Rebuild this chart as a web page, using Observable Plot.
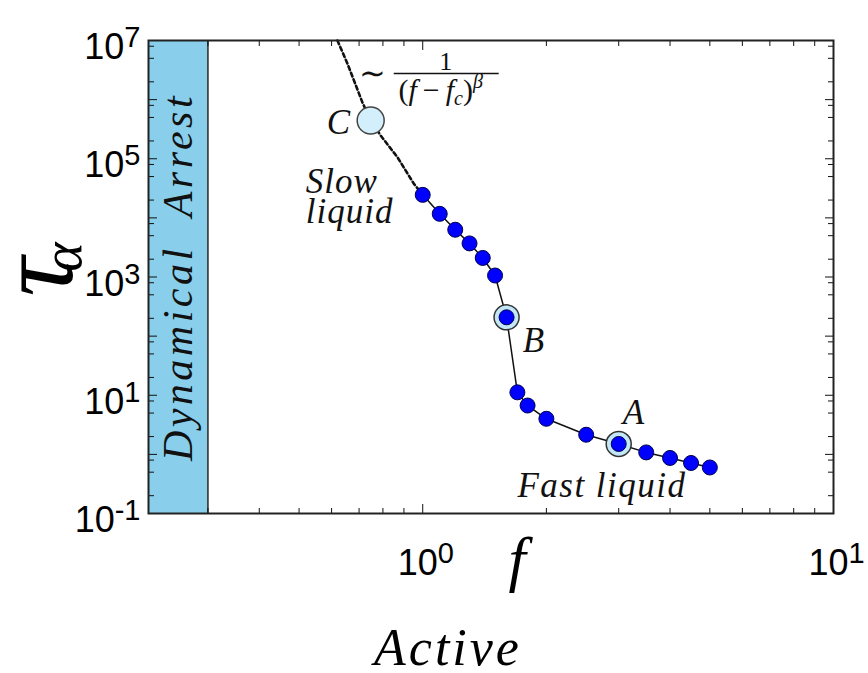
<!DOCTYPE html>
<html><head><meta charset="utf-8">
<script src="https://cdn.jsdelivr.net/npm/d3@7"></script>
<script src="https://cdn.jsdelivr.net/npm/@observablehq/plot@0.6"></script>
<style>body{margin:0;background:#fff}</style>
</head><body><div id="chart"></div>
<script>
// ---- data ----
const fValues   = [1.0, 1.1, 1.2, 1.3, 1.4, 1.5, 1.6, 1.7, 1.8, 2.0, 2.5, 3.0, 3.5, 4.0, 4.5, 5.0];
const tauValues = [2.45e4, 1.17e4, 6.3e3, 3.7e3, 2.1e3, 1.06e3, 208, 11.2, 6.7, 4.0, 2.15, 1.5, 1.08, 0.87, 0.715, 0.60];

// dashed power-law fit
const fitF   = [0.620, 0.656, 0.713, 0.747, 0.790, 0.868, 0.952, 1.0];
const fitTau = [1e7, 4.04e6, 9.0e5, 4.43e5, 2.47e5, 1.06e5, 3.76e4, 2.45e4];

// highlighted states
const stateNames = ["A", "B", "C"];
const stateF     = [3.0, 1.6, 0.747];
const stateTau   = [1.5, 208, 4.43e5];

// dynamical arrest band
const arrestRange = [0.215, 0.3];

// ticks
const xMajorTicks = [1, 10];
const xMinorTicks = [0.3, 0.4, 0.5, 0.6, 0.7, 0.8, 0.9, 2, 3, 4, 5, 6, 7, 8, 9];
const xTickLabels = [1, 10];
const yMajorTicks = [1e-1, 1, 1e1, 1e2, 1e3, 1e4, 1e5, 1e6, 1e7];
const yMinorTicks = [0.2, 0.5, 0.8, 2, 5, 8, 20, 50, 80, 200, 500, 800, 2e3, 5e3, 8e3,
                     2e4, 5e4, 8e4, 2e5, 5e5, 8e5, 2e6, 5e6, 8e6];
const yTickLabels = [1e-1, 1e1, 1e3, 1e5, 1e7];

// annotations (anchored in data coordinates)
const startNotes = ["Slow", "liquid", "Fast liquid", "A", "B"];
const startF     = [0.519, 0.519, 1.70, 3.07, 1.751];
const startTau   = [4.11e4, 1.25e4, 0.295, 5.08, 84];
const endNotes   = ["C"];
const endF       = [0.666];
const endTau     = [4.1e5];

// formula pieces
const simF = 0.756, simTau = 2.77e6;
const numF = 1.137, numTau = 4.3e6;
const barF = [0.850, 1.531], barTau = 2.77e6;
const denF = 1.106, denTau = 1.45e6;

// ---- build ----
const points = fValues.map((f, i) => ({f, tau: tauValues[i]}));
const fit = fitF.map((f, i) => ({f, tau: fitTau[i]}));
const states = stateNames.map((s, i) => ({s, f: stateF[i], tau: stateTau[i]}));
const notesStart = startNotes.map((t, i) => ({t, f: startF[i], tau: startTau[i]}));
const notesEnd = endNotes.map((t, i) => ({t, f: endF[i], tau: endTau[i]}));
const serif = "'Liberation Serif', 'Times New Roman', serif";
const sans = "'Liberation Sans', Arial, sans-serif";
const supFmt = d => "10^" + Math.round(Math.log10(d));
const tickStyle = {stroke: "#111", fill: "none", label: null};
const noteStyle = {x: "f", y: "tau", text: "t", fontSize: 35, fontStyle: "italic",
  fontFamily: serif, fill: "#111"};

const chart = Plot.plot({
  width: 868, height: 673,
  marginLeft: 148, marginRight: 35, marginTop: 40, marginBottom: 160,
  style: {background: "white", overflow: "visible"},
  x: {type: "log", domain: [0.215, 10]},
  y: {type: "log", domain: [0.1, 1e7]},
  marks: [
    Plot.rect([{x1: arrestRange[0], x2: arrestRange[1]}], {x1: "x1", x2: "x2", fill: "#89CFEC"}),
    Plot.ruleX([arrestRange[1]], {stroke: "#222", strokeWidth: 1.5}),
    Plot.text(["Dynamical\u00a0\u00a0Arrest"], {text: d => d, frameAnchor: "left", dx: 30, rotate: -90,
      textAnchor: "middle", lineAnchor: "middle",
      fontSize: 42, fontStyle: "italic", fontFamily: serif, fill: "#111"}),

    // ticks (inward, all four sides)
    Plot.axisX(xMajorTicks, {anchor: "bottom", tickSize: -9, ...tickStyle}),
    Plot.axisX(xMinorTicks, {anchor: "bottom", tickSize: -5, ...tickStyle}),
    Plot.axisX(xMajorTicks, {anchor: "top", tickSize: -9, ...tickStyle}),
    Plot.axisX(xMinorTicks, {anchor: "top", tickSize: -5, ...tickStyle}),
    Plot.axisY(yMajorTicks, {anchor: "left", tickSize: -9, ...tickStyle}),
    Plot.axisY(yMinorTicks, {anchor: "left", tickSize: -6, ...tickStyle}),
    Plot.axisY(yMajorTicks, {anchor: "right", tickSize: -9, ...tickStyle}),
    Plot.axisY(yMinorTicks, {anchor: "right", tickSize: -6, ...tickStyle}),

    // tick labels
    Plot.axisX(xTickLabels, {anchor: "bottom", tickSize: 0, tickPadding: 36, tickFormat: supFmt,
      fontSize: 36, fontFamily: sans, fill: "black", label: null, dx: 3}),
    Plot.axisY(yTickLabels, {anchor: "left", tickSize: 0, tickPadding: 8, tickFormat: supFmt,
      fontSize: 36, fontFamily: sans, fill: "black", label: null, dy: 7}),

    // curves
    Plot.line(fit, {x: "f", y: "tau", stroke: "#111", strokeWidth: 2.6, strokeDasharray: "4,3"}),
    Plot.line(points, {x: "f", y: "tau", stroke: "#111", strokeWidth: 1.5}),
    Plot.dot(states.filter(d => d.s !== "C"), {x: "f", y: "tau", r: 12.5, fill: "#C3E7F7", stroke: "#333", strokeWidth: 1.5}),
    Plot.dot(points, {x: "f", y: "tau", r: 7.5, fill: "#0000FF", stroke: "#000050", strokeWidth: 1}),
    Plot.dot(states.filter(d => d.s === "C"), {x: "f", y: "tau", r: 13.5, fill: "#D3EFFC", stroke: "#444", strokeWidth: 1.5}),

    // annotations
    Plot.text(notesStart, {...noteStyle, textAnchor: "start"}),
    Plot.text(notesEnd, {...noteStyle, textAnchor: "end"}),

    // formula  ~ 1/(f - fc)^beta
    Plot.text([{f: simF, tau: simTau}], {x: "f", y: "tau", text: () => "\u223C", fontSize: 32, fontFamily: serif, fill: "#111"}),
    Plot.text([{f: numF, tau: numTau}], {x: "f", y: "tau", text: () => "1", fontSize: 26, fontFamily: serif, fill: "#111"}),
    Plot.link([{f1: barF[0], f2: barF[1], tau: barTau}], {x1: "f1", x2: "f2", y1: "tau", y2: "tau", stroke: "#111", strokeWidth: 1.6}),
    Plot.text([{f: denF, tau: denTau}], {x: "f", y: "tau", text: () => "(f\u2212fc)\u03B2", fontSize: 30, fontFamily: serif, fill: "#111"}),

    // axis titles
    Plot.text(["\u03C4"], {text: d => d, frameAnchor: "left", dx: -112, dy: 0, rotate: -90,
      textAnchor: "middle", lineAnchor: "middle",
      fontSize: 110, fontStyle: "italic", fontFamily: serif, fill: "black"}),
    Plot.text(["\u03B1"], {text: d => d, frameAnchor: "left", dx: -85, dy: -20, rotate: -90,
      textAnchor: "middle", lineAnchor: "middle",
      fontSize: 56, fontStyle: "italic", fontFamily: serif, fill: "black"}),
    Plot.text(["f"], {text: d => d, frameAnchor: "bottom", dx: 26, dy: 47,
      textAnchor: "middle", lineAnchor: "middle",
      fontSize: 62, fontStyle: "italic", fontFamily: serif, fill: "black"}),
    Plot.text(["Active"], {text: d => d, frameAnchor: "bottom", dx: -43, dy: 135,
      textAnchor: "middle", lineAnchor: "middle",
      fontSize: 52, fontStyle: "italic", fontFamily: serif, fill: "black"}),

    Plot.frame({stroke: "#222", strokeWidth: 2})
  ]
});

// superscript exponents in tick labels
d3.select(chart).selectAll('g[aria-label="x-axis tick label"] text, g[aria-label="y-axis tick label"] text').each(function() {
  const m = this.textContent.match(/^10\^(-?\d+)$/);
  if (!m) return;
  const el = d3.select(this);
  el.text(null);
  el.append("tspan").text("10");
  el.append("tspan").attr("font-size", 29).attr("dy", -12).text(m[1]);
});

// letter spacing to mimic the wider Computer Modern italic
const spacing = {"Dynamical\u00a0\u00a0Arrest": 3.5, "Active": 3, "Fast liquid": 1.5, "Slow": 1, "liquid": 1};
d3.select(chart).selectAll("text").each(function() {
  const s = spacing[this.textContent];
  if (s) this.style.letterSpacing = s + "px";
});

// formula denominator with sub/superscripts
d3.select(chart).selectAll("text").each(function() {
  if (this.textContent !== "(f\u2212fc)\u03B2") return;
  const el = d3.select(this);
  el.text(null);
  const parts = [
    ["(", "normal", null, 0],
    ["f", "italic", null, 0],
    ["\u2009\u2212\u2009", "normal", null, 0],
    ["f", "italic", null, 0],
    ["c", "italic", 20, 5],
    [")", "normal", 30, -5],
    ["\u03B2", "italic", 20, -12]
  ];
  for (const [t, st, fs, dy] of parts) {
    const ts = el.append("tspan").attr("font-style", st).text(t);
    if (fs) ts.attr("font-size", fs);
    if (dy) ts.attr("dy", dy);
  }
});

document.getElementById("chart").appendChild(chart);
</script>
</body></html>
